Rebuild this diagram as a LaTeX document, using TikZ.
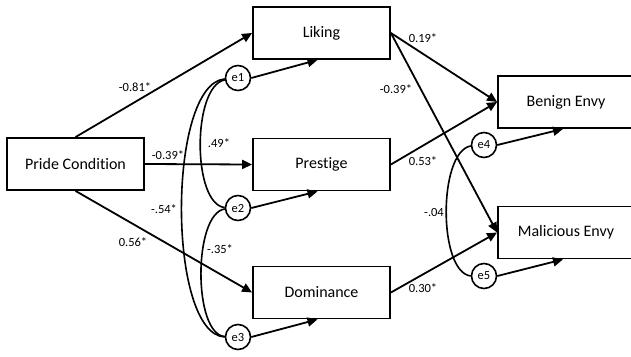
\documentclass[tikz,border=0pt]{standalone}
\usepackage{fontspec}
\setmainfont[Ligatures=NoCommon]{Carlito}
\usetikzlibrary{arrows.meta,calc}
\begin{document}
\begin{tikzpicture}[x=1pt,y=-1pt,
  box/.style={draw, line width=1.8pt, minimum width=137pt, minimum height=52pt, inner sep=0pt, font=\fontsize{16}{19}\selectfont},
  err/.style={draw, circle, line width=1.6pt, minimum size=25pt, inner sep=0pt, font=\fontsize{12.5}{14}\selectfont},
  arr/.style={line width=1.8pt, -{Triangle[length=10pt,width=9pt]}},
  cov/.style={line width=1.6pt},
  lab/.style={font=\fontsize{12.5}{14}\selectfont, inner sep=0pt}]
\useasboundingbox (0,0) rectangle (631,356);
\clip (0,0) rectangle (631,356);
% boxes
\node[box] (pride) at (75.5,164) {Pride Condition};
\node[box] (liking) at (321.5,33) {Liking};
\node[box] (prestige) at (321.5,164.5) {Prestige};
\node[box] (dom) at (321.5,292.5) {Dominance};
\node[box, minimum width=136pt] (be) at (566,102) {Benign Envy};
\node[box, minimum width=136pt] (me) at (566,232.5) {Malicious Envy};
% error terms
\node[err] (e1) at (238,78) {e1};
\node[err] (e2) at (238,208) {e2};
\node[err] (e3) at (238,337) {e3};
\node[err] (e4) at (484,145) {e4};
\node[err] (e5) at (484,276) {e5};
% paths
\draw[arr] (pride.north) -- (liking.west);
\draw[arr] (pride.east) -- (prestige.west);
\draw[arr] (pride.south) -- (dom.west);
\draw[arr] (liking.east) -- (be.west);
\draw[arr] (liking.east) -- (me.west);
\draw[arr] (prestige.east) -- (be.west);
\draw[arr] (dom.east) -- (me.west);
% error arrows
\draw[arr] (e1.east) -- ($(liking.south)+(-4,0)$);
\draw[arr] (e2.east) -- ($(prestige.south)+(-4,0)$);
\draw[arr] (e3.east) -- ($(dom.south)+(-4,0)$);
\draw[arr] (e4.east) -- ($(be.south)+(-3,0)$);
\draw[arr] (e5.east) -- ($(me.south)+(-3,0)$);
% covariances
\draw[cov] (e1.188) .. controls (192,86) and (192,204) .. (e2.178);
\draw[cov] (e1.184) .. controls (167,84) and (167,334) .. (e3.180);
\draw[cov] (e2.184) .. controls (193,214) and (193,334) .. (e3.178);
\draw[cov] (e4.184) .. controls (438,152) and (438,272) .. (e5.180);
% labels
\node[lab] (l1) at (135,87) {-0.81*};
\node[lab] (l2) at (168,155) {-0.39*};
\node[lab] (l3) at (219,143) {.49*};
\node[lab] (l4) at (164,209) {-.54*};
\node[lab] (l5) at (133,242) {0.56*};
\node[lab] (l6) at (220,249) {-.35*};
\node[lab] (l7) at (423,38) {0.19*};
\node[lab] (l8) at (396,89) {-0.39*};
\node[lab] (l9) at (423,161) {0.53*};
\node[lab] (l10) at (434,212) {-.04};
\node[lab] (l11) at (423,288) {0.30*};
\end{tikzpicture}
\end{document}
